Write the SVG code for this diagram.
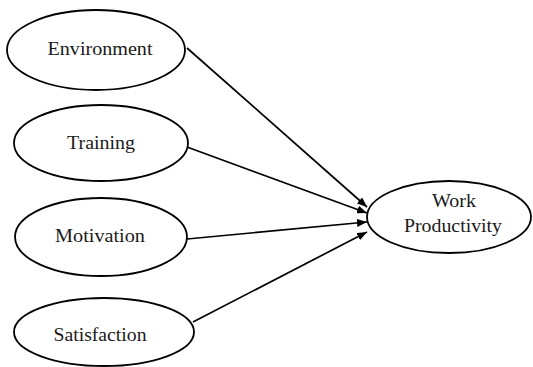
<svg xmlns="http://www.w3.org/2000/svg" width="533" height="367" viewBox="0 0 533 367">
<style>
.n{fill:#fff;stroke:#000;stroke-width:1.8}
.t{font-family:"Liberation Serif","Times New Roman",serif;font-size:19px;fill:#1a1a1a;text-anchor:middle}
.c{stroke:#000;stroke-width:1.7;fill:none;marker-end:url(#ah)}
</style>
<defs>
<marker id="ah" markerWidth="10" markerHeight="8" refX="10" refY="4" orient="auto" markerUnits="userSpaceOnUse">
<path d="M0,0 L10,4 L0,8 Z" fill="#000"/>
</marker>
</defs>
<rect width="533" height="367" fill="#fff"/>
<g id="connectors">
<line class="c" x1="187" y1="48" x2="367" y2="207"/>
<line class="c" x1="187" y1="147" x2="367" y2="213"/>
<line class="c" x1="187" y1="239" x2="367" y2="222"/>
<line class="c" x1="193" y1="322" x2="367" y2="232"/>
</g>
<g id="environment">
<ellipse class="n" cx="96" cy="50" rx="89" ry="40"/>
<text class="t" x="100" y="55" textLength="105" lengthAdjust="spacingAndGlyphs">Environment</text>
</g>
<g id="training">
<ellipse class="n" cx="101" cy="143" rx="87" ry="38"/>
<text class="t" x="101" y="149" textLength="68" lengthAdjust="spacingAndGlyphs">Training</text>
</g>
<g id="motivation">
<ellipse class="n" cx="101" cy="237" rx="86" ry="39"/>
<text class="t" x="100" y="242" textLength="90" lengthAdjust="spacingAndGlyphs">Motivation</text>
</g>
<g id="satisfaction">
<ellipse class="n" cx="104" cy="332" rx="90" ry="34"/>
<text class="t" x="100" y="341" textLength="93" lengthAdjust="spacingAndGlyphs">Satisfaction</text>
</g>
<g id="work-productivity">
<ellipse class="n" cx="449" cy="217" rx="82" ry="36"/>
<text class="t" x="454" y="207" textLength="44" lengthAdjust="spacingAndGlyphs">Work</text>
<text class="t" x="453" y="232" textLength="98" lengthAdjust="spacingAndGlyphs">Productivity</text>
</g>
</svg>
